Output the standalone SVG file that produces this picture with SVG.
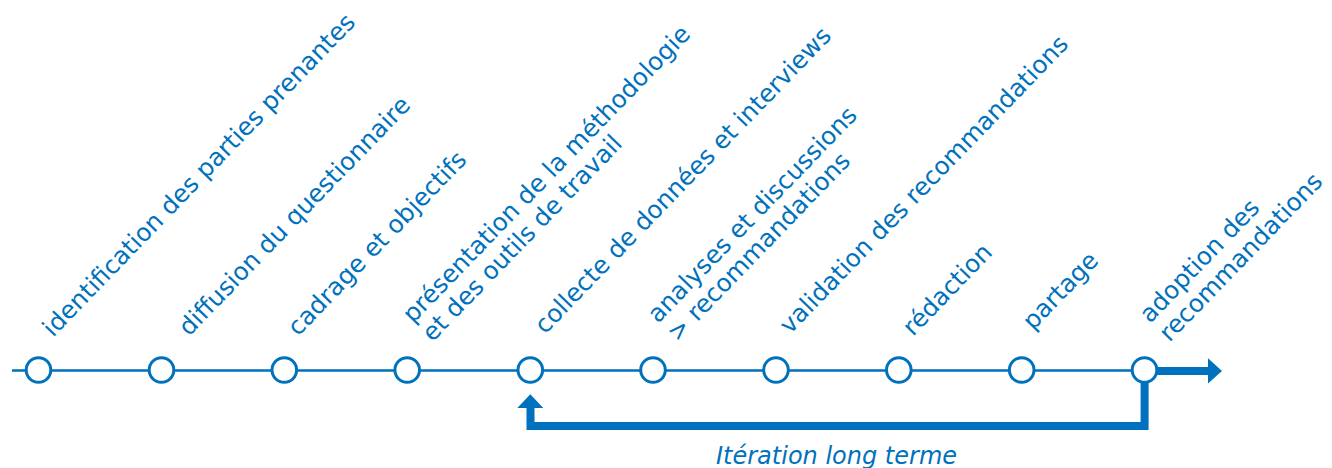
<svg xmlns="http://www.w3.org/2000/svg" width="1332" height="468" viewBox="0 0 1332 468">
<defs>
<style>
.lbl{font-family:"DejaVu Sans","Liberation Sans",sans-serif;font-size:24.6px;fill:#0071BC}
.it{font-family:"DejaVu Sans","Liberation Sans",sans-serif;font-size:24px;font-style:italic;fill:#0071BC}
.node{fill:#fff;stroke:#0071BC;stroke-width:3}
.thin{stroke:#0071BC;stroke-width:2.5;fill:none}
.thick{stroke:#0071BC;stroke-width:8;fill:none;stroke-linejoin:miter}
.head{fill:#0071BC}
</style>
</defs>
<rect width="1332" height="468" fill="#fff"/>
<g id="connectors">
<line class="thin" x1="12" y1="370.5" x2="1144" y2="370.5"/>
<line class="thick" x1="1150" y1="371" x2="1209" y2="371"/>
<polygon class="head" points="1208,358.3 1222,371 1208,383.5"/>
<path class="thick" d="M1144.6 380 V426 H530.5 V407"/>
<polygon class="head" points="517.3,408 530.3,394.3 543.3,408"/>
<text class="it" x="716" y="464">Itération long terme</text>
</g>
<g id="n1"><circle class="node" cx="38.5" cy="370" r="12.3"/><text class="lbl" transform="translate(53,338) rotate(-46)">identification des parties prenantes</text></g>
<g id="n2"><circle class="node" cx="161.5" cy="370" r="12.3"/><text class="lbl" transform="translate(189,337) rotate(-46)">diffusion du questionnaire</text></g>
<g id="n3"><circle class="node" cx="284.3" cy="370" r="12.3"/><text class="lbl" transform="translate(298,337) rotate(-46)">cadrage et objectifs</text></g>
<g id="n4"><circle class="node" cx="407.2" cy="370" r="12.3"/><text class="lbl" transform="translate(413,324) rotate(-46)"><tspan x="0" y="0">présentation de la méthodologie</tspan><tspan x="0" y="27">et des outils de travail</tspan></text></g>
<g id="n5"><circle class="node" cx="530.3" cy="370" r="12.3"/><text class="lbl" transform="translate(545,335) rotate(-46)">collecte de données et interviews</text></g>
<g id="n6"><circle class="node" cx="653" cy="370" r="12.3"/><text class="lbl" transform="translate(658,324) rotate(-46)"><tspan x="0" y="0">analyses et discussions</tspan><tspan x="0" y="27">&gt; recommandations</tspan></text></g>
<g id="n7"><circle class="node" cx="776" cy="370" r="12.3"/><text class="lbl" transform="translate(790,335) rotate(-46)">validation des recommandations</text></g>
<g id="n8"><circle class="node" cx="898.8" cy="370" r="12.3"/><text class="lbl" transform="translate(913,337) rotate(-46)">rédaction</text></g>
<g id="n9"><circle class="node" cx="1021.7" cy="370" r="12.3"/><text class="lbl" transform="translate(1033,331) rotate(-46)">partage</text></g>
<g id="n10"><circle class="node" cx="1144.5" cy="370" r="12.3"/><text class="lbl" transform="translate(1150,324) rotate(-46)"><tspan x="0" y="0">adoption des</tspan><tspan x="0" y="27">recommandations</tspan></text></g>
</svg>
